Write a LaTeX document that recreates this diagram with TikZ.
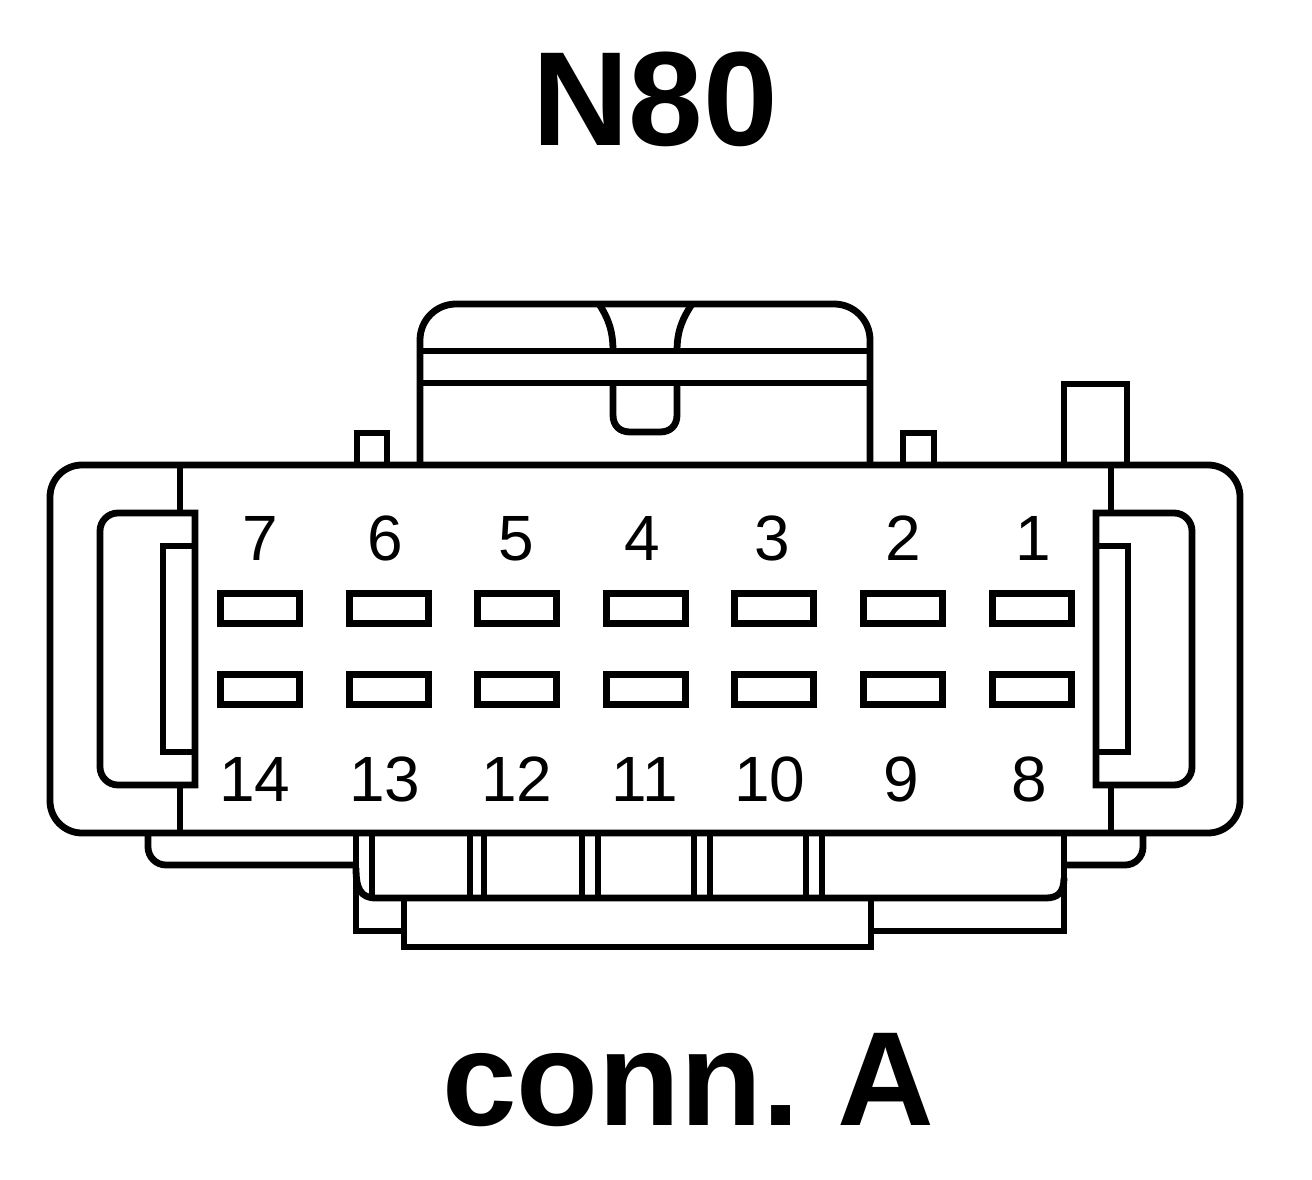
\documentclass[tikz,border=0pt]{standalone}
\usepackage{fontspec}
\setmainfont{Liberation Sans}
\tikzset{
  part/.style={line width=6.8pt,line join=miter,line cap=butt,draw=black},
  pinbox/.style={part,rectangle,inner sep=0pt,outer sep=0pt,minimum width=78.6pt,minimum height=30.6pt},
  pinnum/.style={inner sep=0pt,anchor=base,font=\fontsize{64}{64}\selectfont},
  headline/.style={inner sep=0pt,anchor=base,font=\fontsize{134}{134}\selectfont\bfseries}
}
\begin{document}
\begin{tikzpicture}[x=1pt,y=-1pt]
\useasboundingbox (0,0) rectangle (1312,1180);
% body
\draw[part,rounded corners=32pt] (50,465) rectangle (1240,833);
\draw[part] (180,465)--(180,513) (180,785)--(180,833);
\draw[part] (1111,465)--(1111,513) (1111,785)--(1111,833);
% latches
\draw[part] (195,513) -- (118,513) arc[start angle=90,end angle=180,radius=18pt] -- (100,767) arc[start angle=180,end angle=270,radius=18pt] -- (195,785) -- cycle;
\draw[part] (195,546)--(163,546)--(163,752)--(195,752);
\draw[part] (1096,513) -- (1174,513) arc[start angle=90,end angle=0,radius=18pt] -- (1192,767) arc[start angle=0,end angle=-90,radius=18pt] -- (1096,785) -- cycle;
\draw[part] (1096,546)--(1128,546)--(1128,752)--(1096,752);
% top tabs
\draw[part] (357,465)--(357,433)--(387,433)--(387,465);
\draw[part] (903,465)--(903,433)--(934,433)--(934,465);
\draw[part] (1064,465)--(1064,384)--(1127,384)--(1127,465);
% top handle
\draw[part] (420,465)--(420,340) arc[start angle=180,end angle=90,radius=36pt] -- (834,304) arc[start angle=90,end angle=0,radius=36pt] -- (870,465);
\draw[part] (420,351)--(870,351) (420,383)--(870,383);
\draw[part] (599,304) .. controls (608,318) and (613,330) .. (613,351);
\draw[part] (692,304) .. controls (683,318) and (677,330) .. (677,351);
\draw[part] (613,383)--(613,415) .. controls (613,426) and (620,432) .. (630,432) -- (660,432) .. controls (670,432) and (677,426) .. (677,415) -- (677,383);
% bottom flaps
\draw[part,rounded corners=18pt] (148,833)--(148,865)--(356,865);
\draw[part,rounded corners=18pt] (1143,833)--(1143,865)--(1064,865);
% bottom shroud
\draw[part] (356,833)--(356,931)--(404,931);
\draw[part] (1064,833)--(1064,931)--(871,931);
\draw[part] (356,868) .. controls (356,888) and (360,898) .. (376,898) -- (1046,898) .. controls (1058,898) and (1064,892) .. (1064,878);
\draw[part] (404,898)--(404,947)--(871,947)--(871,898);
\draw[part] (372,833)--(372,898);
\draw[part] (470,833)--(470,898) (484,833)--(484,898);
\draw[part] (582,833)--(582,898) (598,833)--(598,898);
\draw[part] (694,833)--(694,898) (710,833)--(710,898);
\draw[part] (806,833)--(806,898) (822,833)--(822,898);
% pins, upper row
\node[pinbox] (p7) at (260,608.5) {};
\node[pinbox] (p6) at (389,608.5) {};
\node[pinbox] (p5) at (517,608.5) {};
\node[pinbox] (p4) at (646,608.5) {};
\node[pinbox] (p3) at (774,608.5) {};
\node[pinbox] (p2) at (903,608.5) {};
\node[pinbox] (p1) at (1032,608.5) {};
% pins, lower row
\node[pinbox] (p14) at (260,689.5) {};
\node[pinbox] (p13) at (389,689.5) {};
\node[pinbox] (p12) at (517,689.5) {};
\node[pinbox] (p11) at (646,689.5) {};
\node[pinbox] (p10) at (774,689.5) {};
\node[pinbox] (p9) at (903,689.5) {};
\node[pinbox] (p8) at (1032,689.5) {};
% numbers
\node[pinnum] (n7) at (260,560) {7};
\node[pinnum] (n6) at (385,560) {6};
\node[pinnum] (n5) at (516,560) {5};
\node[pinnum] (n4) at (642,560) {4};
\node[pinnum] (n3) at (772,560) {3};
\node[pinnum] (n2) at (903,560) {2};
\node[pinnum] (n1) at (1033,560) {1};
\node[pinnum] (n14) at (255,801) {14};
\node[pinnum] (n13) at (385,801) {13};
\node[pinnum] (n12) at (517,801) {12};
\node[pinnum] (n11) at (645,801) {11};
\node[pinnum] (n10) at (770,801) {10};
\node[pinnum] (n9) at (901,801) {9};
\node[pinnum] (n8) at (1029,801) {8};
% titles
\node[headline] (top) at (655,146) {N80};
\node[headline] (bottom) at (688,1125) {conn.\hspace{-12pt} A};
\end{tikzpicture}
\end{document}
